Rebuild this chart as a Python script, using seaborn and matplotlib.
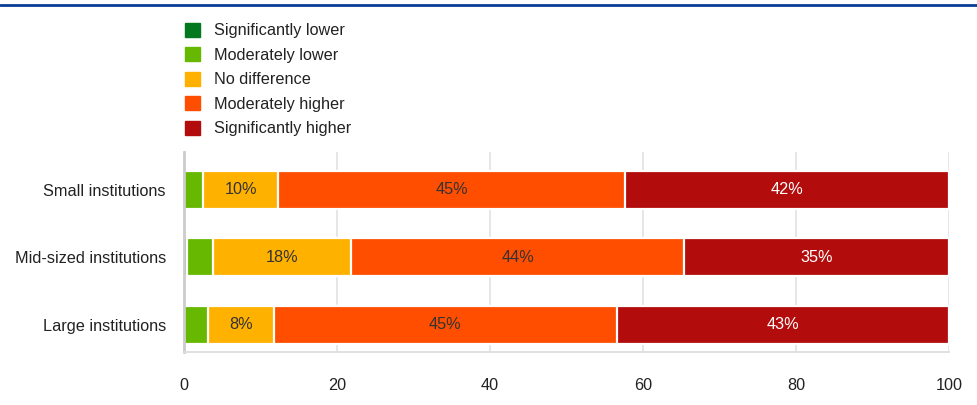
import numpy as np
import pandas as pd
import seaborn as sns
import matplotlib.pyplot as plt
from matplotlib.patches import Patch
from matplotlib.lines import Line2D

categories = ["Small institutions", "Mid-sized institutions", "Large institutions"]
series = ["Significantly lower", "Moderately lower", "No difference",
          "Moderately higher", "Significantly higher"]
sig_lower = [0.0, 0.4, 0.0]
mod_lower = [2.5, 3.4, 3.2]
no_diff = [9.8, 18.0, 8.5]
mod_higher = [45.4, 43.6, 44.9]
sig_higher = [42.3, 34.6, 43.4]
colors = ["#04781f", "#67b800", "#ffb100", "#ff4e00", "#b30c0c"]
text_colors = ["#333333", "#333333", "#333333", "#333333", "white"]

values = np.array([sig_lower, mod_lower, no_diff, mod_higher, sig_higher])
cum = values.cumsum(axis=0)

sns.set_style("white")
plt.rcParams['font.family'] = ['Liberation Sans', 'DejaVu Sans']

fig, ax = plt.subplots(figsize=(9.78, 4.05), dpi=100)
fig.subplots_adjust(left=184 / 978, right=949 / 978, top=1 - 152 / 405, bottom=1 - 352 / 405)

# stacked bars: draw cumulative totals from longest to shortest
for i in range(len(series) - 1, -1, -1):
    df = pd.DataFrame({"cat": categories, "val": cum[i]})
    sns.barplot(data=df, x="val", y="cat", color=colors[i], orient="h",
                width=0.56, edgecolor="white", linewidth=1.6, saturation=1, ax=ax)

for i in range(len(series)):
    for j in range(len(categories)):
        v = values[i, j]
        if v >= 5:
            ax.text(cum[i, j] - v / 2, j, f"{round(v):.0f}%", ha="center", va="center",
                    fontsize=11.7, color=text_colors[i])

ax.set_xlim(0, 100)
ax.set_ylim(2.4, -0.56)
ax.set_xticks([0, 20, 40, 60, 80, 100])
ax.set_xlabel("")
ax.set_ylabel("")
ax.xaxis.grid(True, color="#e4e4e4", linewidth=1.3)
ax.set_axisbelow(True)
for s in ["top", "right"]:
    ax.spines[s].set_visible(False)
ax.spines["left"].set_color("#cccccc")
ax.spines["left"].set_linewidth(2)
ax.spines["bottom"].set_color("#dddddd")
ax.spines["bottom"].set_linewidth(1.3)
ax.tick_params(axis="both", length=0, labelsize=11.7, labelcolor="#222222")
ax.tick_params(axis="x", pad=19)
ax.tick_params(axis="y", pad=13)

handles = [Patch(facecolor=c, edgecolor=c) for c in colors]
fig.legend(handles, series, loc="upper left", bbox_to_anchor=(170 / 978, 1 - 8 / 405),
           frameon=False, fontsize=11.7, handlelength=0.95, handleheight=0.95,
           handletextpad=0.85, labelspacing=0.55, labelcolor="#222222")

fig.add_artist(Line2D([0, 1], [1 - 5 / 405, 1 - 5 / 405], color="#0b3b94", linewidth=2))

plt.savefig("out.png", dpi=100)
